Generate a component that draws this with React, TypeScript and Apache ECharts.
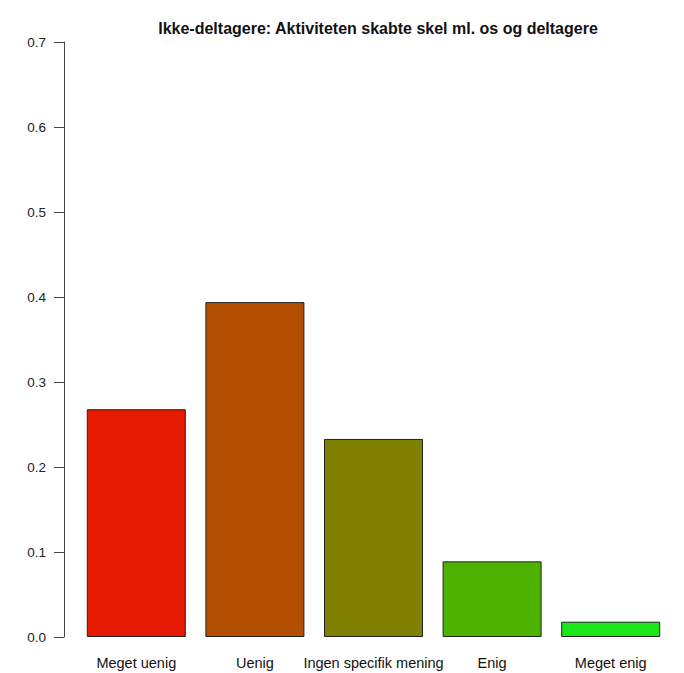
import React, { useEffect, useRef } from "react";
import * as echarts from "echarts";

const categories = ["Meget uenig", "Uenig", "Ingen specifik mening", "Enig", "Meget enig"];
const values = [0.268, 0.394, 0.233, 0.089, 0.018];
const barColors = ["#E61A00", "#B34D00", "#808000", "#4DB300", "#1AE61A"];
const yTicks = [0, 0.1, 0.2, 0.3, 0.4, 0.5, 0.6, 0.7];
const title = "Ikke-deltagere: Aktiviteten skabte skel ml. os og deltagere";

export default function App() {
  const ref = useRef<HTMLDivElement>(null);
  useEffect(() => {
    if (!ref.current) return;
    const chart = echarts.init(ref.current, undefined, { renderer: "svg" });
    const font = "'Liberation Sans', Arial, Helvetica, sans-serif";
    chart.setOption({
      animation: false,
      backgroundColor: "#ffffff",
      title: {
        text: title,
        left: 373,
        top: 15,
        textAlign: "center",
        textStyle: { fontFamily: font, fontSize: 16, fontWeight: "bold", color: "#111" },
      },
      grid: { left: 77, right: 14, top: 42, bottom: 36, containLabel: false },
      xAxis: {
        type: "category",
        data: categories,
        axisLine: { show: false },
        axisTick: { show: false },
        axisLabel: { fontFamily: font, fontSize: 14.5, color: "#111", margin: 18, interval: 0 },
      },
      yAxis: {
        type: "value",
        min: 0,
        max: yTicks[yTicks.length - 1],
        interval: 0.1,
        offset: 13,
        splitLine: { show: false },
        axisLine: { show: true, lineStyle: { color: "#444", width: 1 } },
        axisTick: { show: true, length: 10, lineStyle: { color: "#444" } },
        axisLabel: {
          fontFamily: font,
          fontSize: 13.5,
          color: "#222",
          margin: 18,
          formatter: (v: number) => v.toFixed(1),
        },
      },
      series: [
        {
          type: "bar",
          barWidth: 99,
          data: values.map((v, i) => ({
            value: v,
            itemStyle: { color: barColors[i], borderColor: "#222", borderWidth: 1 },
          })),
        },
      ],
    });
    return () => chart.dispose();
  }, []);
  return (
    <div
      ref={ref}
      style={{ position: "fixed", left: 0, top: 0, width: 684, height: 673 }}
    />
  );
}
